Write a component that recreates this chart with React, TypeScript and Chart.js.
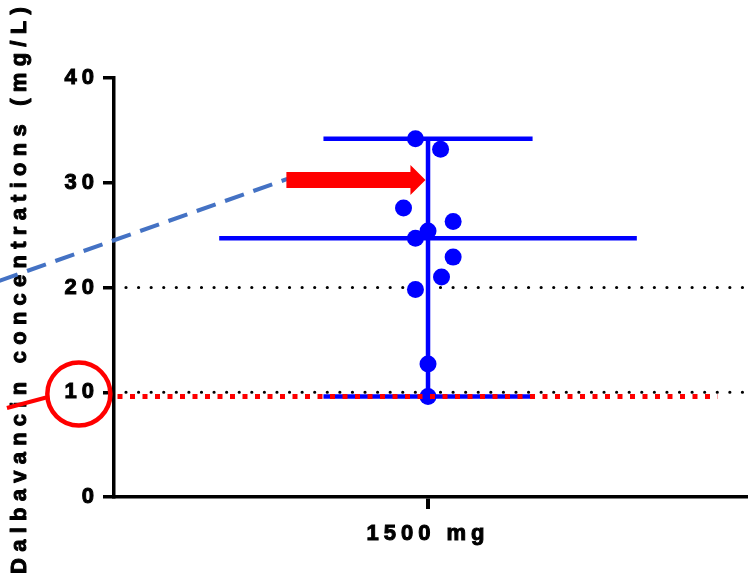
import React, { useEffect, useRef } from 'react';
import { Chart, registerables } from 'chart.js';

Chart.register(...registerables);

// ---- data ----
const categoryLabel = '1500 mg';
const yTitle = 'Dalbavancin concentrations (mg/L)';
const concentrations = [34.2, 33.2, 27.6, 26.3, 25.4, 24.7, 22.9, 21.0, 19.8, 12.7, 9.6];
const jitter = [-0.04, 0.04, -0.078, 0.08, 0, -0.04, 0.08, 0.043, -0.04, 0, 0];
const yTicks = [0, 10, 20, 30, 40];
const thresholdLines = [10, 20];
const medianHalfWidth = 0.665;
const rangeHalfWidth = 0.333;
const redLineEndX = 0.923;
// annotations in data units
const arrowY = 30.26;
const arrowX = [-0.451, -0.056, -0.008]; // tail, head base, tip
const dashedLine = [
  { x: -1.367, y: 20.62 },
  { x: -0.448, y: 30.36 },
];
const circleCenter = { x: -1.112, y: 9.83 };
const redLeader = [
  { x: -1.341, y: 8.5 },
  { x: -1.21, y: 9.55 },
];

const sorted = [...concentrations].sort((a, b) => a - b);
const minV = sorted[0];
const maxV = sorted[sorted.length - 1];
const medianV = sorted[Math.floor(sorted.length / 2)];

const FONT = '"Liberation Sans", Arial, sans-serif';
const BLUE = '#0000ff';

const spacingPlugin = {
  id: 'spacing',
  beforeLayout(chart: any) {
    chart.ctx.letterSpacing = '5px';
  },
  beforeDraw(chart: any) {
    chart.ctx.letterSpacing = '5px';
  },
};

const refLinesPlugin = {
  id: 'refLines',
  beforeDatasetsDraw(chart: any) {
    const { ctx, chartArea, scales } = chart;
    const y = scales.y;
    ctx.save();
    ctx.strokeStyle = '#000';
    ctx.lineWidth = 3.2;
    ctx.lineCap = 'round';
    ctx.setLineDash([0.01, 12.57]);
    thresholdLines.forEach((v) => {
      const py = y.getPixelForValue(v);
      ctx.beginPath();
      ctx.moveTo(chartArea.left + 12, py);
      ctx.lineTo(chartArea.right, py);
      ctx.stroke();
    });
    ctx.restore();
  },
  afterDatasetsDraw(chart: any) {
    const { ctx, chartArea, scales } = chart;
    const { x, y } = scales;
    ctx.save();
    ctx.strokeStyle = '#ff0000';
    ctx.lineWidth = 5;
    ctx.lineCap = 'butt';
    ctx.setLineDash([5, 7.5]);
    const py = y.getPixelForValue(minV);
    ctx.beginPath();
    ctx.moveTo(chartArea.left + 3.5, py);
    ctx.lineTo(x.getPixelForValue(redLineEndX), py);
    ctx.stroke();
    ctx.restore();
  },
  afterDraw(chart: any) {
    const { ctx, chartArea, scales } = chart;
    const { x, y } = scales;
    // y-axis title
    ctx.save();
    ctx.font = `bold 22px ${FONT}`;
    ctx.letterSpacing = '6.25px';
    ctx.fillStyle = '#000';
    ctx.strokeStyle = '#000';
    ctx.lineWidth = 1;
    ctx.lineJoin = 'round';
    ctx.textAlign = 'center';
    ctx.textBaseline = 'alphabetic';
    ctx.translate(25.5, (chartArea.top + chartArea.bottom) / 2);
    ctx.rotate(-Math.PI / 2);
    ctx.fillText(yTitle, 0, 0);
    ctx.strokeText(yTitle, 0, 0);
    ctx.restore();

    // blue dashed leader
    ctx.save();
    ctx.strokeStyle = '#4472c4';
    ctx.lineWidth = 4;
    ctx.setLineDash([20, 10]);
    ctx.beginPath();
    ctx.moveTo(x.getPixelForValue(dashedLine[0].x), y.getPixelForValue(dashedLine[0].y));
    ctx.lineTo(x.getPixelForValue(dashedLine[1].x), y.getPixelForValue(dashedLine[1].y));
    ctx.stroke();
    ctx.restore();

    // red arrow
    const ay = y.getPixelForValue(arrowY);
    const tail = x.getPixelForValue(arrowX[0]);
    const base = x.getPixelForValue(arrowX[1]);
    const tip = x.getPixelForValue(arrowX[2]);
    ctx.save();
    ctx.fillStyle = '#ff0000';
    ctx.beginPath();
    ctx.moveTo(tail, ay - 8);
    ctx.lineTo(base, ay - 8);
    ctx.lineTo(base, ay - 15);
    ctx.lineTo(tip, ay);
    ctx.lineTo(base, ay + 15);
    ctx.lineTo(base, ay + 8);
    ctx.lineTo(tail, ay + 8);
    ctx.closePath();
    ctx.fill();
    ctx.restore();

    // red circle and leader
    ctx.save();
    ctx.strokeStyle = '#ff0000';
    ctx.lineWidth = 4.5;
    ctx.beginPath();
    ctx.arc(x.getPixelForValue(circleCenter.x), y.getPixelForValue(circleCenter.y), 31.5, 0, Math.PI * 2);
    ctx.stroke();
    ctx.lineWidth = 4;
    ctx.beginPath();
    ctx.moveTo(x.getPixelForValue(redLeader[0].x), y.getPixelForValue(redLeader[0].y));
    ctx.lineTo(x.getPixelForValue(redLeader[1].x), y.getPixelForValue(redLeader[1].y));
    ctx.stroke();
    ctx.restore();
  },
};

const seg = (pts: { x: number; y: number }[]) => ({
  data: pts,
  showLine: true,
  borderColor: BLUE,
  borderWidth: 4.5,
  borderCapStyle: 'butt' as const,
  pointRadius: 0,
  fill: false,
});

const tickFont = { family: FONT, weight: 'bold', size: 22 };

export default function App() {
  const ref = useRef<HTMLCanvasElement | null>(null);
  useEffect(() => {
    if (!ref.current) return;
    const chart = new Chart(ref.current, {
      type: 'scatter',
      data: {
        datasets: [
          {
            data: concentrations.map((v, i) => ({ x: jitter[i], y: v })),
            backgroundColor: BLUE,
            borderWidth: 0,
            pointRadius: 8.5,
          } as any,
          seg([
            { x: -medianHalfWidth, y: medianV },
            { x: medianHalfWidth, y: medianV },
          ]),
          seg([
            { x: -rangeHalfWidth, y: maxV },
            { x: rangeHalfWidth, y: maxV },
          ]),
          seg([
            { x: -rangeHalfWidth, y: minV },
            { x: rangeHalfWidth, y: minV },
          ]),
          seg([
            { x: 0, y: minV },
            { x: 0, y: maxV },
          ]),
        ],
      },
      options: {
        responsive: false,
        animation: false,
        layout: { autoPadding: false, padding: { top: 78, right: 0, left: 0, bottom: 0 } },
        plugins: { legend: { display: false }, tooltip: { enabled: false } },
        scales: {
          x: {
            type: 'linear',
            min: -1,
            max: 1.019,
            afterBuildTicks: (s: any) => {
              s.ticks = [{ value: 0 }];
            },
            afterFit: (s: any) => {
              s.height = 81;
              s.paddingLeft = 0;
              s.paddingRight = 0;
            },
            border: { display: true, color: '#000', width: 3.5 },
            grid: {
              display: true,
              drawOnChartArea: false,
              drawTicks: true,
              tickLength: 12,
              color: '#000',
              lineWidth: 4,
            },
            ticks: {
              callback: () => categoryLabel,
              font: tickFont,
              color: '#000',
              textStrokeColor: '#000',
              textStrokeWidth: 1,
              padding: 12,
              maxRotation: 0,
            },
          },
          y: {
            type: 'linear',
            min: 0,
            max: 40,
            afterBuildTicks: (s: any) => {
              s.ticks = yTicks.map((v) => ({ value: v }));
            },
            afterFit: (s: any) => {
              s.width = 114;
            },
            border: { display: true, color: '#000', width: 3.5 },
            grid: {
              display: true,
              drawOnChartArea: false,
              drawTicks: true,
              tickLength: 11,
              color: '#000',
              lineWidth: 3.5,
            },
            ticks: {
              font: tickFont,
              color: '#000',
              textStrokeColor: '#000',
              textStrokeWidth: 1,
              padding: 4,
            },
          },
        },
      } as any,
      plugins: [spacingPlugin, refLinesPlugin],
    });
    return () => chart.destroy();
  }, []);
  return (
    <div style={{ position: 'fixed', left: 0, top: 0, width: 748, height: 578, background: '#fff' }}>
      <canvas ref={ref} width={748} height={578} style={{ display: 'block' }} />
    </div>
  );
}
